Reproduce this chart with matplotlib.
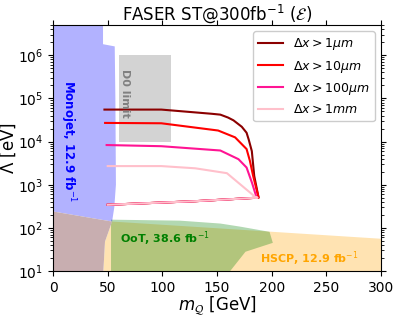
import matplotlib
matplotlib.use("Agg")
from matplotlib import pyplot as plt

# curves: upper branch (mass, Lambda) then lower branch back
m_1um = [47, 99, 145, 153, 160, 165, 172.6, 177, 179, 181.8, 184, 188]
L_1um = [5.5e4, 5.5e4, 4.4e4, 4.2e4, 3.6e4, 3.1e4, 2.2e4, 1.6e4, 1.1e4, 6.0e3, 1.6e3, 500]
m_10um = [47.6, 99, 151, 166.5, 177, 180, 183, 188]
L_10um = [2.7e4, 2.65e4, 1.8e4, 1.25e4, 6.7e3, 3.6e3, 1.6e3, 500]
m_100um = [49, 99, 153, 169.6, 177, 182, 186]
L_100um = [8.3e3, 7.8e3, 6.2e3, 3.9e3, 2.5e3, 1.1e3, 520]
m_1mm = [50, 99, 130, 159, 185]
L_1mm = [2.7e3, 2.7e3, 2.4e3, 1.85e3, 520]
m_low = [187, 130, 50]
L_low = [500, 415, 343]

labels = [r"$\Delta x > 1\mu m$", r"$\Delta x > 10\mu m$",
          r"$\Delta x > 100\mu m$", r"$\Delta x > 1mm$"]
colors = ["darkred", "red", "deeppink", "pink"]

# excluded regions
mono_m = [0, 0, 45.7, 45.7, 56.4, 57, 57.5, 56, 54]
mono_L = [240, 1e7, 1e7, 1.8e6, 1.6e6, 1e5, 1e3, 300, 140]
mauve_m = [0, 0, 54, 47.5, 46]
mauve_L = [10, 240, 140, 48, 10]
hscp_m = [46, 47.5, 54, 300, 300]
hscp_L = [10, 48, 140, 56, 10]
oot_m = [53, 53, 116, 153, 171, 198, 201, 176, 162]
oot_L = [10, 155, 147, 126, 107, 81, 45, 28, 10]
d0_m = [60.4, 108]
d0_L = [1e4, 1e6]

fig = plt.figure(figsize=(3.99, 3.17), dpi=100)
ax = fig.add_axes([0.133, 0.145, 0.822, 0.776])

ax.fill(hscp_m, hscp_L, color="orange", alpha=0.3, lw=0)
ax.fill(oot_m, oot_L, color="green", alpha=0.3, lw=0)
ax.fill(mono_m, mono_L, color="blue", alpha=0.3, lw=0)
ax.fill(mauve_m, mauve_L, color="#c8aeb0", lw=0)
ax.fill_between(d0_m, d0_L[0], d0_L[1], color="lightgray", lw=0)

curves = [(m_1um, L_1um), (m_10um, L_10um), (m_100um, L_100um), (m_1mm, L_1mm)]
for (m, L), c, lab in zip(curves, colors, labels):
    ax.plot(m + m_low, L + L_low, color=c, lw=1.5, label=lab)

ax.text(66, 1.3e5, "D0 limit", rotation=-90, color="gray", fontsize=8,
        fontweight="bold", ha="center", va="center")
ax.text(13.5, 1.0e4, r"Monojet, 12.9 fb$^{-1}$", rotation=-90, color="blue",
        fontsize=8.5, fontweight="bold", ha="center", va="center")
ax.text(102, 56, r"OoT, 38.6 fb$^{-1}$", color="green", fontsize=8,
        fontweight="bold", ha="center", va="center")
ax.text(234, 19, r"HSCP, 12.9 fb$^{-1}$", color="orange", fontsize=8,
        fontweight="bold", ha="center", va="center")

ax.set_yscale("log")
ax.set_xlim(0, 300)
ax.set_ylim(10, 5e6)
ax.set_xlabel(r"$m_{\mathcal{Q}}$ [GeV]", fontsize=12, labelpad=0)
ax.set_ylabel(r"$\Lambda$ [eV]", fontsize=12, labelpad=0)
ax.set_title(r"FASER ST@300fb$^{-1}$ ($\mathcal{E}$)", fontsize=12, pad=4)
ax.tick_params(top=True, right=True, which="both", labelsize=10)

ax.legend(loc="upper right", fontsize=9, framealpha=1)

plt.savefig("out.png", dpi=100)
